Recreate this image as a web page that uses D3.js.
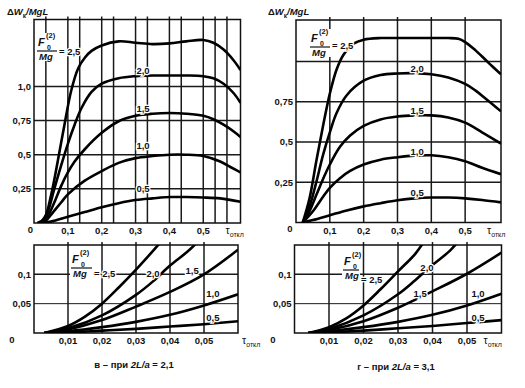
<!DOCTYPE html>
<html><head><meta charset="utf-8">
<script src="https://cdn.jsdelivr.net/npm/d3@7"></script>
<style>
body{margin:0;background:#fff}
svg{display:block}
text{font-family:"Liberation Sans",Arial,sans-serif;fill:#111;font-weight:bold}
</style>
</head><body><svg id="c" width="525" height="388"></svg>
<script>
// ---------- data ----------
const seriesLabels = ["2,5","2,0","1,5","1,0","0,5"];

const topXTicks = [0.1,0.2,0.3,0.4,0.5];
const topXTickLabels = ["0,1","0,2","0,3","0,4","0,5"];
const topLeftXGrid = [0.035,0.1,0.135,0.2,0.235,0.3,0.335,0.4,0.435,0.5,0.535,0.57];
const topRightXGrid = [0.1,0.2,0.3,0.4,0.5];
const topLeftYTicks = [0.25,0.5,0.75,1.0];
const topLeftYTickLabels = ["0,25","0,5","0,75","1,0"];
const topLeftYGrid = [0.25,0.5,0.75,1.0];
const topRightYTicks = [0.25,0.5,0.75];
const topRightYTickLabels = ["0,25","0,5","0,75"];
const topRightYGrid = [0.25,0.5,0.75,1.0];

const bottomXTicks = [0.01,0.02,0.03,0.04,0.05];
const bottomXTickLabels = ["0,01","0,02","0,03","0,04","0,05"];
const bottomYTicks = [0.05,0.1];
const bottomYTickLabels = ["0,05","0,1"];

const captionLetters = ["в – при ", "г – при "];
const captionRatios = ["2,1", "3,1"];

// top-left (2L/a = 2,1): tau_otkl vs dW/MgL
const tl25 = [[0.01,0],[0.03,0.03],[0.05,0.2],[0.07,0.45],[0.09,0.72],[0.11,0.97],[0.13,1.13],[0.15,1.21],[0.17,1.26],[0.2,1.3],[0.25,1.33],[0.3,1.32],[0.35,1.31],[0.4,1.315],[0.45,1.33],[0.5,1.34],[0.53,1.32],[0.56,1.27],[0.59,1.19],[0.61,1.12]];
const tl20 = [[0.02,0],[0.04,0.08],[0.06,0.25],[0.08,0.42],[0.1,0.58],[0.12,0.72],[0.14,0.84],[0.17,0.96],[0.2,1.02],[0.25,1.06],[0.3,1.075],[0.35,1.08],[0.4,1.08],[0.45,1.08],[0.5,1.075],[0.53,1.06],[0.56,1.02],[0.59,0.95],[0.61,0.88]];
const tl15 = [[0.02,0],[0.04,0.05],[0.06,0.15],[0.08,0.27],[0.1,0.37],[0.12,0.45],[0.15,0.54],[0.2,0.66],[0.25,0.745],[0.3,0.785],[0.35,0.8],[0.4,0.805],[0.45,0.8],[0.5,0.785],[0.53,0.76],[0.56,0.72],[0.59,0.67],[0.61,0.63]];
const tl10 = [[0.03,0],[0.05,0.06],[0.08,0.15],[0.1,0.21],[0.15,0.31],[0.2,0.38],[0.25,0.44],[0.3,0.475],[0.35,0.49],[0.4,0.5],[0.45,0.5],[0.5,0.49],[0.55,0.45],[0.58,0.41],[0.61,0.37]];
const tl05 = [[0.02,0],[0.05,0.01],[0.1,0.045],[0.15,0.08],[0.2,0.115],[0.25,0.145],[0.3,0.168],[0.35,0.18],[0.4,0.19],[0.45,0.19],[0.5,0.187],[0.55,0.18],[0.61,0.155]];

// top-right (2L/a = 3,1)
const tr25 = [[0.02,0],[0.04,0.15],[0.06,0.38],[0.08,0.6],[0.1,0.8],[0.12,0.95],[0.14,1.04],[0.17,1.11],[0.2,1.135],[0.25,1.145],[0.3,1.145],[0.35,1.145],[0.4,1.145],[0.45,1.145],[0.48,1.14],[0.5,1.12],[0.53,1.07],[0.56,1.01],[0.58,0.97],[0.606,0.92]];
const tr20 = [[0.02,0],[0.04,0.1],[0.06,0.25],[0.08,0.42],[0.1,0.56],[0.12,0.68],[0.15,0.79],[0.2,0.88],[0.25,0.915],[0.3,0.925],[0.35,0.927],[0.4,0.92],[0.45,0.9],[0.5,0.86],[0.53,0.82],[0.56,0.77],[0.606,0.69]];
const tr15 = [[0.02,0],[0.04,0.07],[0.06,0.17],[0.08,0.27],[0.1,0.36],[0.13,0.47],[0.16,0.54],[0.2,0.6],[0.25,0.64],[0.3,0.658],[0.35,0.665],[0.4,0.665],[0.45,0.652],[0.5,0.62],[0.55,0.56],[0.606,0.49]];
const tr10 = [[0.02,0],[0.05,0.07],[0.08,0.16],[0.1,0.215],[0.13,0.275],[0.16,0.32],[0.2,0.36],[0.25,0.39],[0.3,0.405],[0.35,0.415],[0.4,0.417],[0.45,0.405],[0.5,0.38],[0.55,0.34],[0.606,0.3]];
const tr05 = [[0.02,0],[0.05,0.015],[0.1,0.045],[0.15,0.075],[0.2,0.1],[0.25,0.12],[0.3,0.138],[0.35,0.15],[0.4,0.155],[0.45,0.155],[0.5,0.15],[0.55,0.14],[0.606,0.125]];

// bottom-left (initial part, 2L/a = 2,1)
const bl25 = [[0.003,0],[0.01,0.012],[0.015,0.028],[0.02,0.05],[0.025,0.078],[0.03,0.108],[0.035,0.14],[0.038,0.16]];
const bl20 = [[0.003,0],[0.01,0.008],[0.02,0.03],[0.03,0.065],[0.035,0.088],[0.04,0.115],[0.045,0.138],[0.049,0.16]];
const bl15 = [[0.003,0],[0.01,0.006],[0.02,0.022],[0.03,0.045],[0.04,0.07],[0.05,0.1],[0.06,0.142]];
const bl10 = [[0.003,0],[0.01,0.003],[0.02,0.01],[0.03,0.019],[0.04,0.031],[0.05,0.047],[0.06,0.066]];
const bl05 = [[0.003,0],[0.01,0.001],[0.02,0.004],[0.03,0.007],[0.04,0.011],[0.05,0.015],[0.06,0.02]];

// bottom-right (initial part, 2L/a = 3,1)
const br25 = [[0.004,0],[0.01,0.01],[0.015,0.025],[0.02,0.047],[0.025,0.075],[0.03,0.105],[0.035,0.135],[0.038,0.16]];
const br20 = [[0.004,0],[0.01,0.007],[0.02,0.03],[0.03,0.066],[0.035,0.09],[0.04,0.116],[0.045,0.14],[0.048,0.16]];
const br15 = [[0.004,0],[0.01,0.005],[0.02,0.02],[0.03,0.043],[0.04,0.071],[0.05,0.101],[0.06,0.137]];
const br10 = [[0.004,0],[0.01,0.003],[0.02,0.01],[0.03,0.019],[0.04,0.031],[0.05,0.047],[0.06,0.067]];
const br05 = [[0.004,0],[0.01,0.001],[0.02,0.004],[0.03,0.008],[0.04,0.012],[0.05,0.017],[0.06,0.022]];

// ---------- drawing ----------
const svg = d3.select("#c");

function panel(o){
  const x = d3.scaleLinear().domain(o.xd).range(o.xr);
  const y = d3.scaleLinear().domain(o.yd).range(o.yr);
  const g = svg.append("g");
  const id = "clip" + o.name;
  svg.append("clipPath").attr("id", id).append("rect")
    .attr("x", o.xr[0]).attr("y", o.yr[1]).attr("width", o.xr[1]-o.xr[0]).attr("height", o.yr[0]-o.yr[1]);
  // grid
  g.selectAll(".vg").data(o.xGrid).join("line")
    .attr("x1", d=>x(d)).attr("x2", d=>x(d)).attr("y1", o.yr[0]).attr("y2", o.yr[1]-3)
    .attr("stroke","#1a1a1a").attr("stroke-width",1.5);
  g.selectAll(".hg").data(o.yGrid).join("line")
    .attr("y1", d=>y(d)).attr("y2", d=>y(d)).attr("x1", o.xr[0]).attr("x2", o.xr[1])
    .attr("stroke","#1a1a1a").attr("stroke-width", d=>o.thinY && o.thinY.includes(d) ? 1 : 1.5);
  // frame
  g.append("rect").attr("x",o.xr[0]).attr("y",o.yr[1]).attr("width",o.xr[1]-o.xr[0]).attr("height",o.yr[0]-o.yr[1])
    .attr("fill","none").attr("stroke","#111").attr("stroke-width",1.5);
  // curves
  const line = d3.line().x(d=>x(d[0])).y(d=>y(d[1])).curve(d3.curveCatmullRom.alpha(0.5));
  g.append("g").attr("clip-path","url(#"+id+")").selectAll("path").data(o.series).join("path")
    .attr("d", line).attr("fill","none").attr("stroke","#000").attr("stroke-width",2.6).attr("stroke-linejoin","round");
  // x tick labels
  g.selectAll(".xl").data(o.xTicks).join("text")
    .attr("x", d=>x(d)).attr("y", o.yr[0]+11).attr("text-anchor","middle").attr("font-size",9.5)
    .text((d,i)=>o.xTickLabels[i]);
  g.selectAll(".yl").data(o.yTicks).join("text")
    .attr("x", o.xr[0]-3).attr("y", d=>y(d)+3.5).attr("text-anchor","end").attr("font-size",9.5)
    .text((d,i)=>o.yTickLabels[i]);
  g.append("text").attr("x", o.zeroX).attr("y", o.yr[0]+o.zeroDy).attr("font-size",9.5).attr("text-anchor","middle").text("0");
  // tau label
  const t = g.append("text").attr("x", x(o.xd[1]) - o.tauDx).attr("y", o.yr[0]+11).attr("font-size",10.5);
  t.append("tspan").attr("font-weight","normal").text("τ");
  t.append("tspan").attr("font-size",7).attr("font-weight","normal").attr("dy",3).text("откл");
  // series labels (excluding 2,5)
  g.selectAll(".sl").data(o.labelPos).join("text")
    .attr("x", d=>x(d[0])).attr("y", d=>y(d[1])+3.5).attr("text-anchor","middle").attr("font-size",9.5)
    .attr("stroke","#fff").attr("stroke-width",2.5).attr("paint-order","stroke")
    .text((d,i)=>seriesLabels[i+1]);
  // F label
  const f = o.f, fg = g.append("g");
  fg.append("rect").attr("x",f.x-1).attr("y",f.b-18).attr("width",f.w+2).attr("height",28).attr("fill","#fff");
  fg.append("text").attr("x",f.x+1).attr("y",f.b-5).attr("font-size",11).attr("font-style","italic").text("F");
  fg.append("text").attr("x",f.x+9).attr("y",f.b-13).attr("font-size",7.5).text("(2)");
  fg.append("text").attr("x",f.x+10).attr("y",f.b-1.5).attr("font-size",7).text("0");
  fg.append("line").attr("x1",f.x).attr("x2",f.x+f.w).attr("y1",f.b).attr("y2",f.b).attr("stroke","#111").attr("stroke-width",1.2);
  fg.append("text").attr("x",f.x+2).attr("y",f.b+9).attr("font-size",9.5).attr("font-style","italic").text("Mg");
  fg.append("text").attr("x",f.x+f.w+2).attr("y",f.b+f.eq).attr("font-size",9.5)
    .attr("stroke","#fff").attr("stroke-width",2.5).attr("paint-order","stroke").text("= " + seriesLabels[0]);
  return {x,y,g};
}

function yTitle(x0, y0){
  const t = svg.append("text").attr("x",x0).attr("y",y0).attr("font-size",9.5);
  t.append("tspan").text("Δ");
  t.append("tspan").attr("font-style","italic").text("W");
  t.append("tspan").attr("font-size",6.5).attr("dy",2.5).text("к");
  t.append("tspan").attr("dy",-2.5).attr("font-style","italic").text("/MgL");
}

panel({name:"tl", xd:[0,0.61], xr:[34,240.5], yd:[0,1.49], yr:[223,19.5],
  xGrid:topLeftXGrid, yGrid:topLeftYGrid, xTicks:topXTicks, xTickLabels:topXTickLabels,
  yTicks:topLeftYTicks, yTickLabels:topLeftYTickLabels, zeroX:30.5, zeroDy:10,
  series:[tl25,tl20,tl15,tl10,tl05], tauDx:15,
  labelPos:[[0.322,1.12],[0.322,0.842],[0.322,0.564],[0.322,0.249]],
  f:{x:37,b:51,w:20,eq:3.5}});

panel({name:"tr", xd:[0,0.606], xr:[296,501], yd:[0,1.257], yr:[222.5,20],
  xGrid:topRightXGrid, yGrid:topRightYGrid, xTicks:topXTicks, xTickLabels:topXTickLabels,
  yTicks:topRightYTicks, yTickLabels:topRightYTickLabels, zeroX:290, zeroDy:9,
  series:[tr25,tr20,tr15,tr10,tr05], tauDx:14,
  labelPos:[[0.358,0.959],[0.358,0.698],[0.358,0.438],[0.358,0.189]],
  f:{x:310,b:47,w:20,eq:2}});

panel({name:"bl", xd:[0,0.06], xr:[34,238], yd:[0,0.15], yr:[333,245],
  xGrid:bottomXTicks, yGrid:bottomYTicks, thinY:[0.05], xTicks:bottomXTicks, xTickLabels:bottomXTickLabels,
  yTicks:bottomYTicks, yTickLabels:bottomYTickLabels, zeroX:12, zeroDy:10,
  series:[bl25,bl20,bl15,bl10,bl05], tauDx:-4,
  labelPos:[[0.035,0.102],[0.0465,0.107],[0.0526,0.068],[0.0526,0.026]],
  f:{x:71,b:268,w:21,eq:9}});

panel({name:"br", xd:[0,0.06], xr:[294.5,501.5], yd:[0,0.15], yr:[333,245],
  xGrid:bottomXTicks, yGrid:bottomYTicks, thinY:[0.05], xTicks:bottomXTicks, xTickLabels:bottomXTickLabels,
  yTicks:bottomYTicks, yTickLabels:bottomYTickLabels, zeroX:273, zeroDy:10,
  series:[br25,br20,br15,br10,br05], tauDx:18,
  labelPos:[[0.0384,0.1125],[0.0364,0.068],[0.0532,0.068],[0.0532,0.026]],
  f:{x:343,b:270,w:16,eq:13}});

yTitle(7,15);
yTitle(268,15);

function caption(cx, cy, i){
  const t = svg.append("text").attr("x",cx).attr("y",cy).attr("font-size",9.5).attr("text-anchor","middle");
  t.append("tspan").text(captionLetters[i] + " ");
  t.append("tspan").attr("font-style","italic").text("2L/a");
  t.append("tspan").text(" = " + captionRatios[i]);
}
caption(134,368,0);
caption(396,370,1);
</script>
</body></html>
